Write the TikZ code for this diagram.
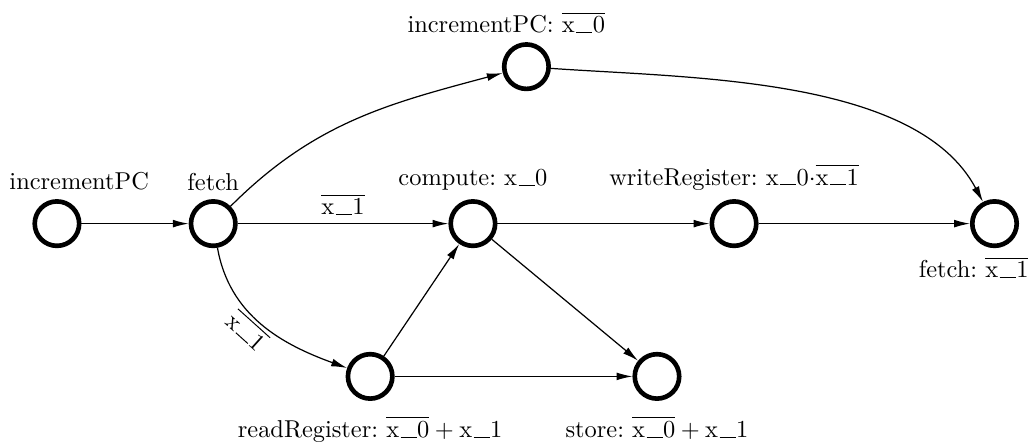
\documentclass[tikz,border=0pt]{standalone}
\usetikzlibrary{arrows.meta}
\newcommand{\uu}{\leavevmode\kern.06em\vbox{\hrule width.66em}\kern.02em}
\newcommand{\xv}[1]{x\uu#1}
\frenchspacing
\begin{document}
\begin{tikzpicture}[state/.style={circle,draw,line width=1.9pt,minimum size=0.64cm,inner sep=0pt},
  edge/.style={-{Latex[length=6.5pt,width=3.2pt]},line width=0.5pt}]
\useasboundingbox (0,0) rectangle (14.86,-6.41);
\pgfmathsetmacro{\r}{-3.22}
\pgfmathsetmacro{\b}{-5.42}
%
\node[state,label={[xshift=0.32cm]above:incrementPC}](incA) at (0.82,\r) {};
\node[state,label={above:fetch}](fetchA) at (3.07,\r) {};
\node[state,label={above:compute: \xv{0}}](comp) at (6.81,\r) {};
\node[state,label={above:writeRegister: \xv{0}$\cdot\overline{\mbox{\xv{1}}}$}](wreg) at (10.57,\r) {};
\node[state,label={[xshift=-0.3cm]below:fetch: $\overline{\mbox{\xv{1}}}$}](fetchB) at (14.32,\r) {};
\node[state,label={[xshift=-0.29cm]above:incrementPC: $\overline{\mbox{\xv{0}}}$}](incB) at (7.58,-0.96) {};
\node[state,label={[yshift=-0.1cm]below:readRegister: $\overline{\mbox{\xv{0}}}+\mbox{\xv{1}}$}](rreg) at (5.33,\b) {};
\node[state,label={[yshift=-0.1cm]below:store: $\overline{\mbox{\xv{0}}}+\mbox{\xv{1}}$}](store) at (9.46,\b) {};
%
\draw[edge](incA)--(fetchA);
\draw[edge](fetchA)--node[above]{$\overline{\mbox{\xv{1}}}$}(comp);
\draw[edge](fetchA) to[out=45,in=195] (incB);
\draw[edge](incB) to[out=-4,in=118,looseness=0.8] (fetchB);
\draw[edge](fetchA) to[out=-80,in=160] node[pos=0.46,sloped,below,inner sep=1pt]{$\overline{\mbox{\xv{1}}}$}(rreg);
\draw[edge](comp)--(wreg);
\draw[edge](wreg)--(fetchB);
\draw[edge](rreg)--(comp);
\draw[edge](rreg)--(store);
\draw[edge](comp)--(store);
\end{tikzpicture}
\end{document}
